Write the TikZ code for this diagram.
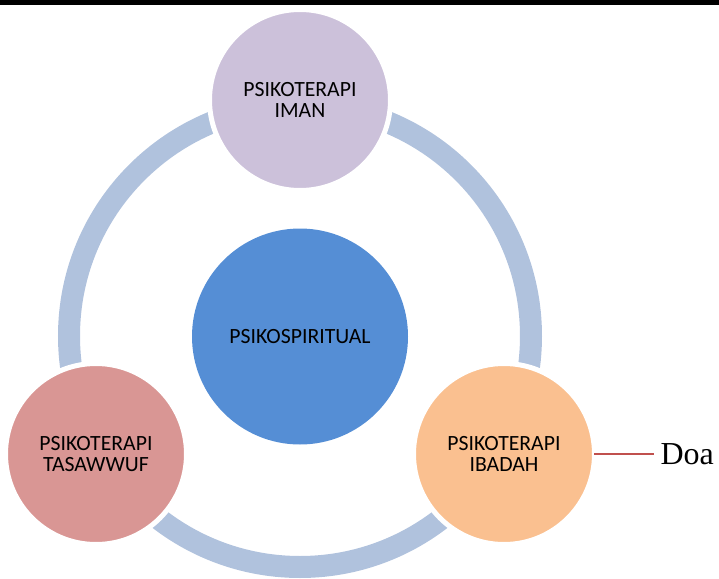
\documentclass[tikz,border=0pt]{standalone}
\usepackage{fontspec}
\setmainfont{Liberation Serif}
\newfontfamily\circfont{Carlito}
\usepackage{xcolor}
\definecolor{ringblue}{RGB}{176,194,221}
\definecolor{imanlilac}{RGB}{204,193,218}
\definecolor{coreblue}{RGB}{85,142,213}
\definecolor{tasawwufrose}{RGB}{217,150,148}
\definecolor{ibadahpeach}{RGB}{250,192,144}
\definecolor{linkred}{RGB}{192,80,77}
\usetikzlibrary{positioning}
\tikzset{
  pillarbox/.style={circle,draw=white,line width=3.75pt,
    minimum size=135.75pt,inner sep=0pt,align=center,text=black,
    font=\circfont\fontsize{16.3}{16.2}\selectfont},
  corebox/.style={circle,fill=coreblue,minimum size=162pt,inner sep=0pt,
    align=center,text=black,font=\circfont\fontsize{16.3}{16.2}\selectfont},
  ringline/.style={draw=ringblue,line width=16.5pt},
  doalink/.style={draw=linkred,line width=1.1pt,shorten <=-2pt},
  doalabel/.style={inner sep=5pt,anchor=west,font=\fontsize{24}{26}\selectfont},
}

\begin{document}
\begin{tikzpicture}[x=0.75pt,y=-0.75pt]
  \useasboundingbox (0,0) rectangle (719,579);
  \fill[black] (0,0) rectangle (719,5);
  % ring behind the three pillars
  \draw[ringline] (300,336) circle[radius=231];
  \node[corebox] (core) at (300,336.5) {PSIKOSPIRITUAL};
  \node[pillarbox,fill=imanlilac] (iman) at (300,100) {PSIKOTERAPI\\IMAN};
  \node[pillarbox,fill=tasawwufrose] (tasawwuf) at (96,454) {PSIKOTERAPI\\TASAWWUF};
  \node[pillarbox,fill=ibadahpeach] (ibadah) at (504,454) {PSIKOTERAPI\\IBADAH};
  \node[doalabel,right=42.5pt of ibadah] (doa) {Doa};
  \draw[doalink] (ibadah) -- (doa);
\end{tikzpicture}
\end{document}
